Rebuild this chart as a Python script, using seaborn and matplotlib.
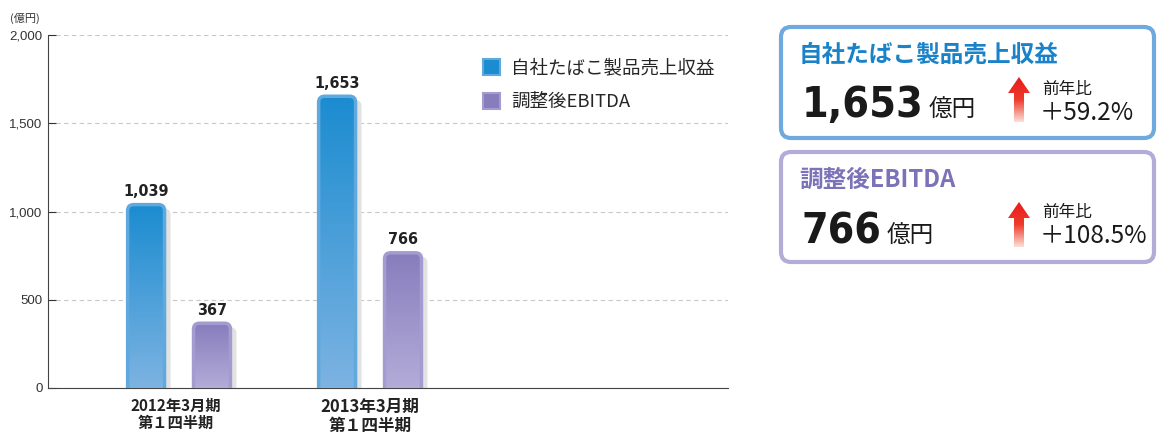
import numpy as np
import pandas as pd
import seaborn as sns
import matplotlib.pyplot as plt
from matplotlib import font_manager as fm
from matplotlib.patches import FancyBboxPatch, Polygon, Patch
from matplotlib.colors import LinearSegmentedColormap

# data
periods = ['2012年3月期\n第１四半期', '2013年3月期\n第１四半期']
series = ['自社たばこ製品売上収益', '調整後EBITDA']
revenue = [1039, 1653]
ebitda = [367, 766]
yoy = ['＋59.2%', '＋108.5%']
panel_titles = ['自社たばこ製品売上収益', '調整後EBITDA']

df = pd.DataFrame({
    'period': periods * 2,
    'series': [series[0]] * 2 + [series[1]] * 2,
    'value': revenue + ebitda,
})

sns.set_style("white")
plt.rcParams['font.family'] = ['Noto Sans CJK JP', 'DejaVu Sans']

# look for a condensed bold face for the numbers
cond = None
for f in fm.fontManager.ttflist:
    n = f.fname.replace(' ', '')
    if ('Condensed' in n or 'Narrow' in n) and ('Bold' in n) and 'Oblique' not in n and 'Italic' not in n:
        cond = f.fname
        break
if cond:
    NUMFP = dict(fontproperties=fm.FontProperties(fname=cond))
else:
    NUMFP = dict(family='Liberation Sans', fontweight='bold')
NUM = ['Liberation Sans', 'DejaVu Sans']

blue_top, blue_bot = '#1b8cd0', '#7db3e2'
purp_top, purp_bot = '#877dbd', '#b3acd8'
colors = [blue_top, purp_top]

fig = plt.figure(figsize=(11.57, 4.33), dpi=100)
ax = fig.add_axes([48 / 1157, 45 / 433, 680 / 1157, 353 / 433])

sns.barplot(data=df, x='period', y='value', hue='series', palette=colors,
            width=0.69, gap=0.44, legend=False, ax=ax)

XL = (-0.686, 2.874)
ax.set_ylim(0, 2000)
ax.set_xlim(*XL)
ax.set_yticks([0, 500, 1000, 1500, 2000])
ax.set_yticklabels(['0', '500', '1,000', '1,500', '2,000'], family=NUM, fontsize=9.5, color='#333333')
ax.yaxis.grid(True, linestyle=(0, (4, 3)), color='#c8c8c8', linewidth=0.8)
ax.set_axisbelow(True)
for s in ['top', 'right']:
    ax.spines[s].set_visible(False)
ax.spines['left'].set_color('#444444')
ax.spines['bottom'].set_color('#444444')
ax.tick_params(axis='y', direction='in', length=6, color='#333333', pad=4, left=True)
ax.tick_params(axis='x', length=0)
ax.set_xlabel('')
ax.set_ylabel('')
ax.set_xticks([0, 1])
ax.set_xticklabels([])

# category labels
for i, (lab, fs) in enumerate(zip(periods, [11, 12])):
    ax.annotate(lab, (i, 0), xytext=(-2 if i == 0 else 0, -7), textcoords='offset points',
                ha='center', va='top', fontsize=fs, fontweight='bold',
                color='#222222', linespacing=1.12, annotation_clip=False)

# restyle bars: rounded tops, gradient, shadow
px_x = (XL[1] - XL[0]) / 680
px_y = 2000 / 353
bars = list(ax.patches)
for k, bar in enumerate(bars):
    x0 = bar.get_x()
    w = bar.get_width()
    h = bar.get_height()
    top, bot = (blue_top, blue_bot) if k < 2 else (purp_top, purp_bot)
    edge = '#5fa9de' if k < 2 else '#a49cd0'
    bar.set_visible(False)
    shadow = FancyBboxPatch((x0 + 6 * px_x, -60), w, h + 60 - 4 * px_y,
                            boxstyle='round,pad=0,rounding_size=%f' % (6 * px_x),
                            mutation_aspect=px_y / px_x, fc='#e2e2e2', ec='none', zorder=2)
    ax.add_patch(shadow)
    body = FancyBboxPatch((x0, -60), w, h + 60,
                          boxstyle='round,pad=0,rounding_size=%f' % (6 * px_x),
                          mutation_aspect=px_y / px_x, fc='none', ec=edge, lw=2.5, zorder=4)
    ax.add_patch(body)
    cmap = LinearSegmentedColormap.from_list('g', [bot, top])
    grad = np.linspace(0, 1, 256).reshape(-1, 1)
    im = ax.imshow(grad, cmap=cmap, aspect='auto', origin='lower',
                   extent=(x0, x0 + w, 0, h), zorder=3)
    im.set_clip_path(body)
    ax.annotate(f'{h:,.0f}', (x0 + w / 2, h), xytext=(0, 4), textcoords='offset points',
                ha='center', va='bottom', fontsize=11.5 if cond else 11,
                color='#222222', **NUMFP)

ax.set_xlim(*XL)
ax.set_ylim(0, 2000)

handles = [Patch(fc=blue_top, ec='#5fa9de', lw=1.5), Patch(fc=purp_top, ec='#a49cd0', lw=1.5)]
ax.legend(handles, series, loc='upper left', bbox_to_anchor=(0.615, 0.98), frameon=False,
          fontsize=13.3, handlelength=0.95, handleheight=0.95, labelspacing=0.85, handletextpad=0.6)

# overlay in pixel coordinates
ov = fig.add_axes([0, 0, 1, 1], zorder=5)
ov.set_xlim(0, 1157)
ov.set_ylim(433, 0)
ov.axis('off')
ov.text(10, 22, '(億円)', fontsize=8, color='#333333', va='baseline')

renderer = fig.canvas.get_renderer()
box_cfg = [
    (27, 138, '#6fa9dd', '#1a82c8', 62, 117, 122, 77, 122, 94, 120, revenue[-1]),
    (152, 262, '#b3acd8', '#7b72b8', 187, 243, 80, 202, 247, 217, 243, ebitda[-1]),
]
for (y0, y1, bc, tc, tb, nb, nw, ay0, ay1, lb, pb, val), title, pct in zip(box_cfg, panel_titles, yoy):
    ov.add_patch(FancyBboxPatch((781, y0), 373, y1 - y0, boxstyle='round,pad=0,rounding_size=10',
                                fc='white', ec=bc, lw=3))
    ov.text(799, tb, title, fontsize=17, fontweight='bold', color=tc, va='baseline')
    t = ov.text(802, nb, f'{val:,.0f}', fontsize=46, color='#1a1a1a', va='baseline', **NUMFP)
    ext = t.get_window_extent(renderer)
    t.set_fontsize(46 * nw / ext.width)
    ext = t.get_window_extent(renderer)
    ov.text(802 + ext.width + 5, nb, '億円', fontsize=17, color='#1a1a1a', va='baseline')
    # arrow with gradient
    arrow = Polygon([(1008, ay0 + 16), (1019, ay0), (1030, ay0 + 16), (1024, ay0 + 16),
                     (1024, ay1), (1014, ay1), (1014, ay0 + 16)], closed=True,
                    fc='none', ec='none', zorder=3)
    ov.add_patch(arrow)
    cmap = LinearSegmentedColormap.from_list('r', ['#e81c1c', '#ee3b2b', '#fbe0d8'])
    g = ov.imshow(np.linspace(0, 1, 256).reshape(-1, 1), cmap=cmap, aspect='auto',
                  extent=(1006, 1032, ay1, ay0), origin='upper', zorder=3)
    g.set_clip_path(arrow)
    ov.text(1042, lb, '前年比', fontsize=12, color='#1a1a1a', va='baseline')
    ov.text(1040, pb, pct, fontsize=17.5, color='#1a1a1a', va='baseline')
ov.set_xlim(0, 1157)
ov.set_ylim(433, 0)

fig.savefig('out.png', dpi=100)
